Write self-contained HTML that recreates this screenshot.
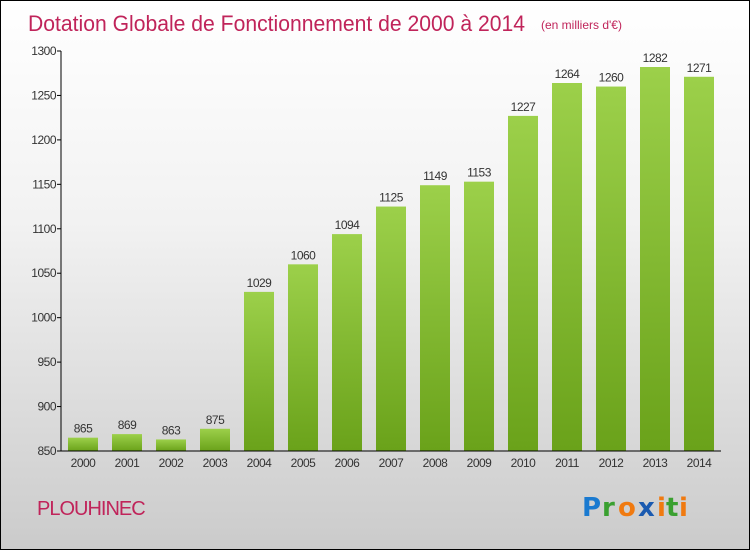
<!DOCTYPE html>
<html><head><meta charset="utf-8"><style>
body{margin:0;width:750px;height:550px;overflow:hidden}
#c{position:absolute;left:0;top:0;width:748px;height:548px;border:1px solid #000;background:linear-gradient(#fff 0%,#f2f2f2 40%,#cbcbcb 100%);font-family:"Liberation Sans",sans-serif}
</style></head><body>
<div id="c">
<svg width="750" height="550" style="position:absolute;left:0;top:0">
<defs><linearGradient id="g" x1="0" y1="0" x2="0" y2="1"><stop offset="0" stop-color="#9cd04a"/><stop offset="1" stop-color="#6aa21a"/></linearGradient></defs>
<text x="27" y="30" font-size="22" fill="#c0245a" textLength="497" lengthAdjust="spacingAndGlyphs">Dotation Globale de Fonctionnement de 2000 à 2014</text>
<text x="540" y="28" font-size="12" fill="#c0245a">(en milliers d'€)</text>
<g id="yax"></g><g id="bars"></g><g id="xax"></g>
<line x1="60" y1="50" x2="60" y2="450" stroke="#000"/>
<line x1="60" y1="450" x2="720" y2="450" stroke="#000"/>
<text x="36" y="514" font-size="20" fill="#c0245a" letter-spacing="-1">PLOUHINEC</text>
<g font-size="26" font-weight="bold" font-family="'DejaVu Sans',sans-serif">
<text x="581" y="515" fill="#1a7ad0">P</text><text x="601" y="515" fill="#3aa030">r</text><text x="617" y="515" fill="#f07a10">o</text><text x="637" y="515" fill="#1a5ab0">x</text><text x="656" y="515" fill="#f07a10">i</text><text x="665" y="515" fill="#3aa030">t</text><text x="678" y="515" fill="#f07a10">i</text>
</g>
</svg></div>
<script>
const years=["2000","2001","2002","2003","2004","2005","2006","2007","2008","2009","2010","2011","2012","2013","2014"];
const values=[865,869,863,875,1029,1060,1094,1125,1149,1153,1227,1264,1260,1282,1271];
const yTicks=[850,900,950,1000,1050,1100,1150,1200,1250,1300];
const NS="http://www.w3.org/2000/svg";
const y=v=>450-(v-850)*400/450;
const x=i=>82+i*44;
function mk(t,a,p){const e=document.createElementNS(NS,t);for(const k in a)e.setAttribute(k,a[k]);p.appendChild(e);return e;}
const ya=document.getElementById('yax'),b=document.getElementById('bars'),xa=document.getElementById('xax');
yTicks.forEach(v=>{
 const l=mk('line',{x1:56,x2:60,y1:y(v),y2:y(v),stroke:'#000'},ya);
 
 
 const t=mk('text',{x:55,y:y(v)+4,'font-size':12,fill:'#333','text-anchor':'end','letter-spacing':'-0.5'},ya);
 t.textContent=v;
 
 
});
values.forEach((v,i)=>{
 const r=mk('rect',{x:x(i)-15,y:y(v),width:30,height:450-y(v),fill:'url(#g)'},b);
 
 
 const t=mk('text',{x:x(i),y:y(v)-5,'font-size':12,fill:'#333','text-anchor':'middle','letter-spacing':'-0.5'},b);
 t.textContent=v;
 
 
 const xl=mk('text',{x:x(i),y:466,'font-size':12,fill:'#333','text-anchor':'middle','letter-spacing':'-0.5'},xa);
 xl.textContent=years[i];
 
 
});
</script>
</body></html>
